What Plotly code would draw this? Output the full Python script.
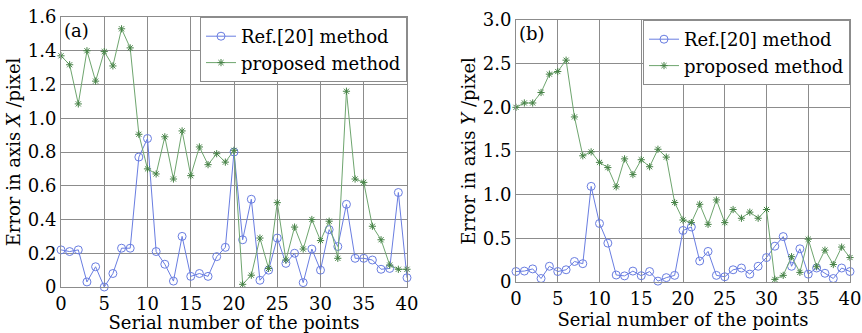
import plotly.graph_objects as go

points = list(range(41))

ref_x = [0.22, 0.21, 0.22, 0.03, 0.12, 0.0, 0.08, 0.23, 0.23, 0.77, 0.88,
         0.21, 0.135, 0.035, 0.30, 0.063, 0.08, 0.063, 0.18, 0.235, 0.80,
         0.28, 0.52, 0.04, 0.10, 0.29, 0.14, 0.20, 0.026, 0.225, 0.10,
         0.34, 0.24, 0.49, 0.17, 0.17, 0.16, 0.105, 0.11, 0.56, 0.055]
prop_x = [1.37, 1.317, 1.085, 1.40, 1.22, 1.395, 1.31, 1.53, 1.417, 0.905, 0.70,
          0.67, 0.89, 0.64, 0.925, 0.66, 0.83, 0.725, 0.79, 0.74, 0.81,
          0.016, 0.07, 0.29, 0.11, 0.50, 0.16, 0.355, 0.225, 0.40, 0.275,
          0.39, 0.17, 1.16, 0.64, 0.62, 0.36, 0.28, 0.13, 0.105, 0.105]
ref_y = [0.12, 0.125, 0.15, 0.04, 0.18, 0.12, 0.14, 0.235, 0.21, 1.095, 0.67,
         0.445, 0.08, 0.07, 0.125, 0.072, 0.12, 0.01, 0.05, 0.076, 0.59,
         0.63, 0.24, 0.35, 0.076, 0.06, 0.14, 0.16, 0.09, 0.18, 0.28,
         0.41, 0.52, 0.18, 0.38, 0.09, 0.16, 0.10, 0.04, 0.16, 0.12]
prop_y = [2.0, 2.05, 2.05, 2.17, 2.38, 2.41, 2.54, 1.89, 1.445, 1.49, 1.37,
          1.31, 1.09, 1.41, 1.23, 1.40, 1.32, 1.52, 1.43, 0.91, 0.71,
          0.68, 0.89, 0.66, 0.94, 0.68, 0.83, 0.73, 0.80, 0.73, 0.83,
          0.03, 0.076, 0.29, 0.11, 0.49, 0.175, 0.365, 0.20, 0.40, 0.28]

x_ticks = [0, 5, 10, 15, 20, 25, 30, 35, 40]
yx_ticks = [0, 0.2, 0.4, 0.6, 0.8, 1.0, 1.2, 1.4, 1.6]
yx_text = ["0", "0.2", "0.4", "0.6", "0.8", "1.0", "1.2", "1.4", "1.6"]
yy_ticks = [0, 0.5, 1.0, 1.5, 2.0, 2.5, 3.0]
yy_text = ["0", "0.5", "1.0", "1.5", "2.0", "2.5", "3.0"]

BLUE = "rgb(105,125,225)"
GREEN = "rgb(110,165,110)"
GREEN_D = "rgb(70,130,70)"
FONT = "DejaVu Serif"
FS = 18
GRID = "rgb(140,140,140)"

W, H = 862, 333


def dx(px):
    return px / W


def dy(py):
    return 1 - py / H


fig = go.Figure()


def add_pair(ref, prop, xa, ya, leg):
    fig.add_trace(go.Scatter(
        x=points, y=ref, name="Ref.[20] method", mode="lines+markers",
        xaxis=xa, yaxis=ya, legend=leg, cliponaxis=False,
        line=dict(color=BLUE, width=1),
        marker=dict(symbol="circle-open", size=8, color=BLUE, line=dict(width=1, color=BLUE))))
    fig.add_trace(go.Scatter(
        x=points, y=prop, name="proposed method", mode="lines+markers",
        xaxis=xa, yaxis=ya, legend=leg, cliponaxis=False,
        line=dict(color=GREEN, width=1),
        marker=dict(symbol="asterisk-open", size=6, color=GREEN_D, line=dict(width=1, color=GREEN_D))))


add_pair(ref_x, prop_x, "x", "y", "legend")
add_pair(ref_y, prop_y, "x2", "y2", "legend2")

axis_common = dict(showgrid=True, gridcolor=GRID, gridwidth=1, zeroline=False,
                   showline=True, linecolor=GRID, linewidth=1, mirror=True,
                   automargin=False, ticks="", ticklabeloverflow="allow",
                   tickfont=dict(family=FONT, size=FS, color="black"))
title_font = dict(family=FONT, size=FS, color="black")

fig.update_layout(
    width=W, height=H, margin=dict(l=0, r=0, t=0, b=0),
    paper_bgcolor="white", plot_bgcolor="white",
    font=dict(family=FONT, size=FS, color="black"),
    xaxis=dict(domain=[dx(61), dx(407)], range=[0, 40], tickvals=x_ticks,
               title=dict(text="Serial number of the points", standoff=2, font=title_font),
               anchor="y", **axis_common),
    yaxis=dict(domain=[dy(287), dy(17)], range=[0, 1.6], tickvals=yx_ticks,
               ticktext=yx_text,
               title=dict(text="Error in axis <i>X</i> /pixel", standoff=2, font=title_font),
               anchor="x", **axis_common),
    xaxis2=dict(domain=[dx(516), dx(850)], range=[0, 40], tickvals=x_ticks,
                title=dict(text="Serial number of the points", standoff=2, font=title_font),
                anchor="y2", **axis_common),
    yaxis2=dict(domain=[dy(282), dy(20)], range=[0, 3.0], tickvals=yy_ticks,
                ticktext=yy_text,
                title=dict(text="Error in axis <i>Y</i> /pixel", standoff=2, font=title_font),
                anchor="x2", **axis_common),
    legend=dict(x=dx(407), y=dy(17), xanchor="right", yanchor="top",
                bgcolor="white", bordercolor=GRID, borderwidth=1,
                font=dict(family=FONT, size=FS), tracegroupgap=0, itemwidth=30),
    legend2=dict(x=dx(850), y=dy(20), xanchor="right", yanchor="top",
                 bgcolor="white", bordercolor=GRID, borderwidth=1,
                 font=dict(family=FONT, size=FS), tracegroupgap=0, itemwidth=30),
    annotations=[
        dict(text="(a)", xref="x domain", yref="y domain", x=0.003, y=0.995,
             xanchor="left", yanchor="top", showarrow=False,
             font=dict(family=FONT, size=FS)),
        dict(text="(b)", xref="x2 domain", yref="y2 domain", x=0.003, y=0.995,
             xanchor="left", yanchor="top", showarrow=False,
             font=dict(family=FONT, size=FS)),
    ],
)

# remove the default 8px body margin so the figure fills the window exactly
fig.write_html("out.html",
               config={"displayModeBar": False},
               post_script="document.body.style.margin='0px';"
                           "document.body.style.overflow='hidden';")
